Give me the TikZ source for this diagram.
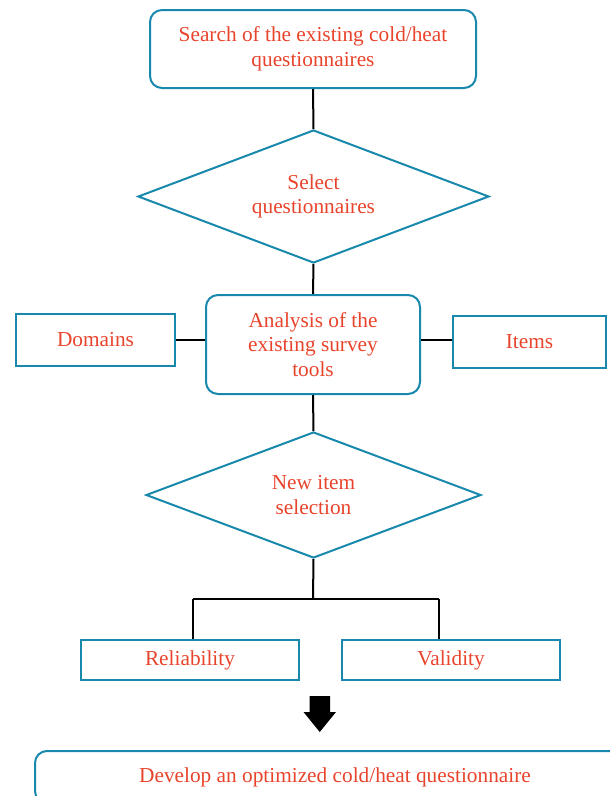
\documentclass[tikz,border=0pt]{standalone}
\usepackage{fontspec}
\setmainfont{Liberation Serif}
\usetikzlibrary{shapes.geometric,calc}
\definecolor{teal1}{RGB}{24,137,172}
\definecolor{red1}{RGB}{232,68,44}
\begin{document}
\begin{tikzpicture}[x=1pt,y=-1pt,
  every node/.style={font=\fontsize{21.3}{24.5}\selectfont, text=red1, align=center, line width=2pt, draw=teal1, inner sep=0pt},
  rbox/.style={rectangle, rounded corners=12pt},
  sbox/.style={rectangle},
  dia/.style={diamond, aspect=2.65},
  conn/.style={line width=2pt, draw=black}]
\useasboundingbox (0,0) rectangle (610,796);
\clip (0,0) rectangle (610,796);
\node[rbox, minimum width=326pt, minimum height=78pt] (search) at (313,49) {Search of the existing cold/heat\\questionnaires};
\node[dia, minimum width=351pt, minimum height=133pt] (select) at (313.5,196.5) {Select\\questionnaires};
\node[rbox, minimum width=214pt, minimum height=99pt] (analysis) at (313,344.5) {Analysis of the\\existing survey\\tools};
\node[sbox, minimum width=159pt, minimum height=52pt] (domains) at (95.5,340) {Domains};
\node[sbox, minimum width=153pt, minimum height=52pt] (items) at (529.5,342) {Items};
\node[dia, minimum width=335pt, minimum height=126pt] (newitem) at (313.5,495) {New item\\selection};
\node[sbox, minimum width=218pt, minimum height=40pt] (rel) at (190,660) {Reliability};
\node[sbox, minimum width=218pt, minimum height=40pt] (val) at (451,660) {Validity};
\node[rbox, minimum width=600pt, minimum height=52pt] (develop) at (335,777) {Develop an optimized cold/heat questionnaire};
\coordinate (fork) at (313,599);
\coordinate (forkL) at (193,599);
\coordinate (forkR) at (439,599);
\draw[conn] (search.south) -- (select.north);
\draw[conn] (select.south) -- (analysis.north);
\draw[conn] (domains.east) -- (domains.east -| analysis.west);
\draw[conn] (items.west |- 0,340) -- (analysis.east |- 0,340);
\draw[conn] (analysis.south) -- (newitem.north);
\draw[conn] (newitem.south) -- (fork);
\draw[conn] (forkL) -- (forkR);
\draw[conn] (forkL) -- (forkL |- rel.north);
\draw[conn] (forkR) -- (forkR |- val.north);
\fill[black] (309.5,696) -- (330,696) -- (330,712) -- (336,712) -- (319.75,732) -- (303.5,712) -- (309.5,712) -- cycle;
\end{tikzpicture}
\end{document}
